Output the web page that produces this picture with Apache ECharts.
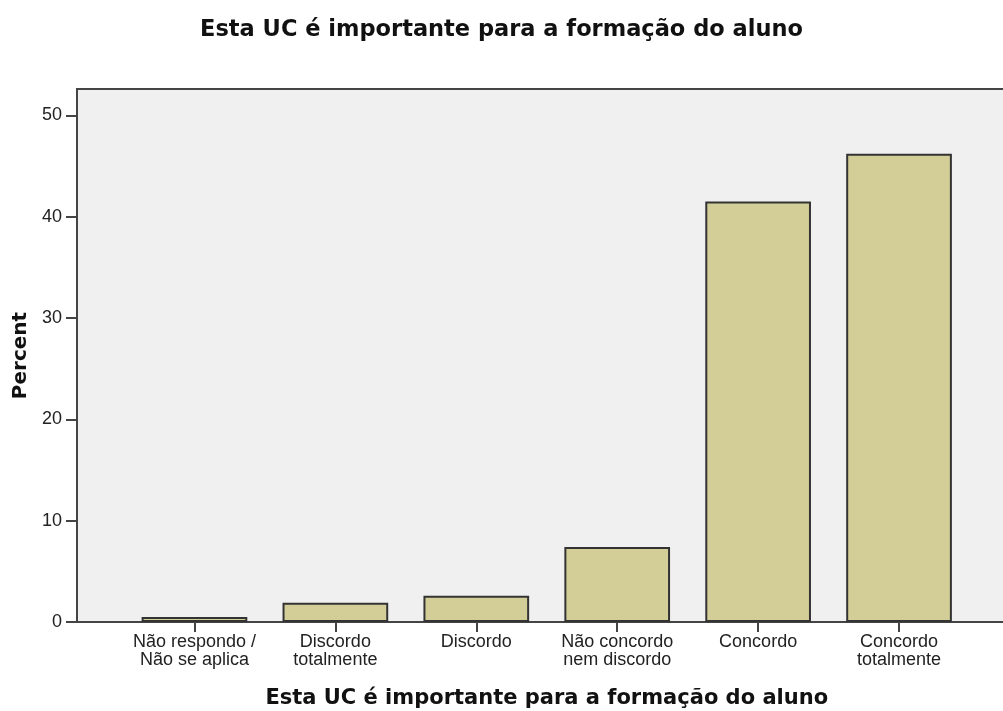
<!DOCTYPE html>
<html>
<head>
<meta charset="utf-8">
<script src="https://cdn.jsdelivr.net/npm/echarts@6/dist/echarts.min.js"></script>
<style>
  html, body { margin: 0; padding: 0; background: #fff; }
  #chart { width: 1003px; height: 711px; }
</style>
</head>
<body>
<div id="chart"></div>
<script>
const categories = [
  'Não respondo /\nNão se aplica',
  'Discordo\ntotalmente',
  'Discordo',
  'Não concordo\nnem discordo',
  'Concordo',
  'Concordo\ntotalmente'
]
const percent = [0.5, 1.9, 2.6, 7.4, 41.5, 46.2]
const yTicks = [0, 10, 20, 30, 40, 50]

const titleText = 'Esta UC é importante para a formação do aluno'
const yMax = 52.6

const chart = echarts.init(document.getElementById('chart'))

chart.setOption({
  animation: false,
  backgroundColor: '#fff',
  title: {
    text: titleText,
    left: 'center',
    top: 14,
    textStyle: {
      fontFamily: 'DejaVu Sans',
      fontSize: 22.5,
      fontWeight: 'bold',
      color: '#111'
    }
  },
  grid: [
    // background frame
    {
      show: true,
      left: 77,
      right: -4,
      top: 89,
      bottom: 89,
      outerBoundsMode: 'none',
      backgroundColor: '#f0f0f0',
      borderColor: '#444',
      borderWidth: 2
    },
    // bars live here
    {
      left: 124,
      right: 33.5,
      top: 89,
      bottom: 89,
      outerBoundsMode: 'none'
    }
  ],
  xAxis: [
    { gridIndex: 0, type: 'category', data: [], show: false },
    {
      gridIndex: 1,
      type: 'category',
      data: categories,
      axisLine: { show: false },
      axisTick: {
        show: true,
        alignWithLabel: true,
        length: 10,
        lineStyle: { color: '#444', width: 2 }
      },
      axisLabel: {
        interval: 0,
        margin: 11,
        fontFamily: 'Liberation Sans',
        fontSize: 18,
        lineHeight: 18,
        color: '#222'
      },
      name: titleText,
      nameLocation: 'middle',
      nameGap: 66,
      nameTextStyle: {
        fontFamily: 'DejaVu Sans',
        fontSize: 21,
        fontWeight: 'bold',
        color: '#111'
      }
    }
  ],
  yAxis: [
    {
      gridIndex: 0,
      type: 'value',
      min: 0,
      max: yMax,
      interval: 10,
      splitLine: { show: false },
      axisLine: { show: true, lineStyle: { color: '#444', width: 2 } },
      axisTick: {
        show: true,
        length: 11,
        customValues: yTicks,
        lineStyle: { color: '#444', width: 2 }
      },
      axisLabel: {
        customValues: yTicks,
        margin: 15,
        fontFamily: 'Liberation Sans',
        fontSize: 18,
        color: '#222'
      },
      name: 'Percent',
      nameLocation: 'middle',
      nameRotate: 90,
      nameGap: 42,
      nameTextStyle: {
        fontFamily: 'DejaVu Sans',
        fontSize: 20,
        fontWeight: 'bold',
        color: '#111'
      }
    },
    {
      gridIndex: 1,
      type: 'value',
      min: 0,
      max: yMax,
      show: false
    }
  ],
  series: [
    {
      type: 'bar',
      xAxisIndex: 1,
      yAxisIndex: 1,
      data: percent,
      barCategoryGap: '25%',
      itemStyle: {
        color: '#d3ce97',
        borderColor: '#333',
        borderWidth: 2
      }
    }
  ]
})
</script>
</body>
</html>
